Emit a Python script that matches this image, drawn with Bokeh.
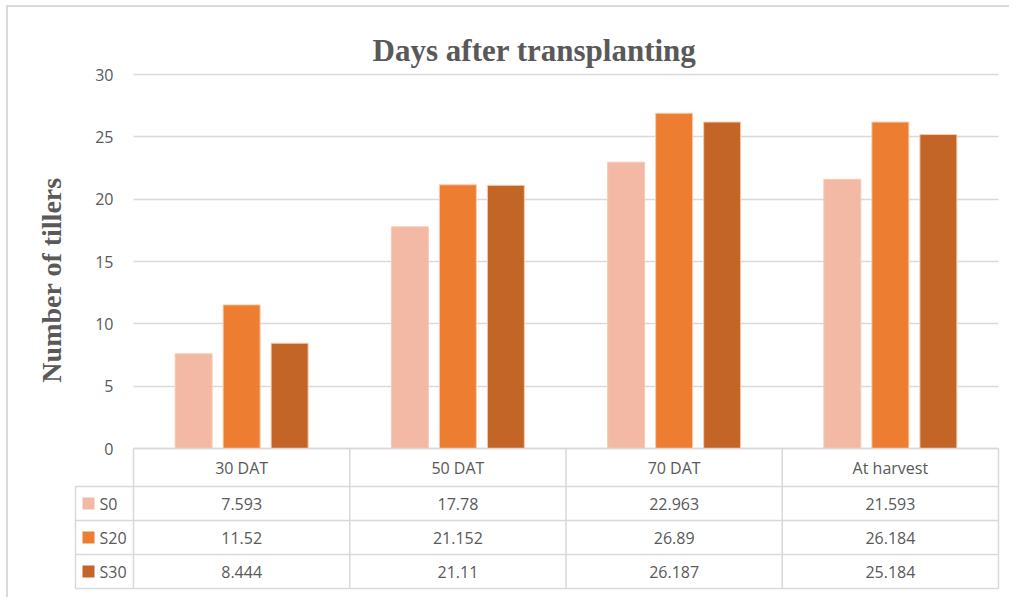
from bokeh.plotting import figure
from bokeh.models import Range1d, FixedTicker, Label
from bokeh.embed import file_html
from bokeh.resources import INLINE
from bokeh.core.properties import value

# ---------------- data ----------------
categories = ["30 DAT", "50 DAT", "70 DAT", "At harvest"]
series_names = ["S0", "S20", "S30"]
s0 = [7.593, 17.78, 22.963, 21.593]
s20 = [11.52, 21.152, 26.89, 26.184]
s30 = [8.444, 21.11, 26.187, 25.184]
y_ticks = [0, 5, 10, 15, 20, 25, 30]
title_text = "Days after transplanting"
y_label = "Number of tillers"

series = [s0, s20, s30]
colors = ["#F4B9A4", "#ED7D31", "#C46528"]
TEXT = "#595959"
GRID = "#D9D9D9"
SANS = "Open Sans"
SERIF = "Liberation Serif"

# ---------------- layout (pixels) ----------------
W, H = 1003, 592
ORIGIN_X = 125          # canvas px to start of first category
CAT_PX = 216.25         # px per category
ZERO_Y = 441            # canvas px (from top) to value 0
UNIT_PX = 374 / 30      # px per value unit
HEADER_H = 38 / UNIT_PX
ROW_H = 34 / UNIT_PX
LEG_W = 58 / CAT_PX
BAR_STEP = 0.222
BAR_W = 0.171

p = figure(width=W, height=H, output_backend="svg", toolbar_location=None,
           x_range=Range1d(-ORIGIN_X / CAT_PX, (W - ORIGIN_X) / CAT_PX),
           y_range=Range1d(-(H - ZERO_Y) / UNIT_PX, ZERO_Y / UNIT_PX),
           min_border=0, outline_line_color=None,
           background_fill_color="white", border_fill_color="white",
           styles={"margin-left": "6px", "margin-top": "5px",
                   "border-left": "2px solid #D9D9D9", "border-top": "2px solid #D9D9D9"})

p.xaxis.visible = False
p.xgrid.visible = False

# y axis at category origin
yax = p.yaxis[0]
yax.fixed_location = 0
yax.ticker = FixedTicker(ticks=y_ticks)
yax.bounds = (-3, 30)
yax.axis_line_color = None
yax.major_tick_line_color = None
yax.minor_tick_line_color = None
yax.major_tick_out = 0
yax.major_label_standoff = 20
yax.major_label_text_font = SANS
yax.major_label_text_font_size = "16px"
yax.major_label_text_color = TEXT
yax.axis_label = y_label
yax.axis_label_text_font = SERIF
yax.axis_label_text_font_style = "bold"
yax.axis_label_text_font_size = "28px"
yax.axis_label_text_color = TEXT
yax.axis_label_standoff = 25

p.ygrid.ticker = FixedTicker(ticks=y_ticks)
p.ygrid.grid_line_color = GRID
p.ygrid.grid_line_width = 1.5
p.ygrid.cross_bounds = (0, len(categories))

# bars
n = len(categories)
for j, vals in enumerate(series):
    xs = [i + 0.5 + (j - 1) * BAR_STEP for i in range(n)]
    p.vbar(x=xs, top=vals, bottom=0, width=BAR_W, fill_color=colors[j],
           line_color="#F8CBAD", line_width=1)

# data table
n_rows = len(series_names)
bottom = -(HEADER_H + n_rows * ROW_H)
vx = list(range(n + 1)) + [-LEG_W]
vy0 = [0] * (n + 1) + [-HEADER_H]
p.segment(x0=vx, x1=vx, y0=vy0, y1=[bottom] * len(vx), line_color=GRID, line_width=1.5)
hy = [0] + [-HEADER_H - r * ROW_H for r in range(n_rows + 1)]
hx0 = [0] + [-LEG_W] * (n_rows + 1)
p.segment(x0=hx0, x1=[n] * len(hy), y0=hy, y1=hy, line_color=GRID, line_width=1.5)

p.text(x=[i + 0.5 for i in range(n)], y=[-HEADER_H / 2] * n, text=categories,
       text_align="center", text_baseline="middle", text_font=value(SANS),
       text_font_size="16px", text_color=TEXT)

for j, vals in enumerate(series):
    yc = -HEADER_H - (j + 0.5) * ROW_H
    p.text(x=[i + 0.5 for i in range(n)], y=[yc] * n, text=[str(v) for v in vals],
           text_align="center", text_baseline="middle", text_font=value(SANS),
           text_font_size="16px", text_color=TEXT)
    p.scatter(x=[-LEG_W + 13 / CAT_PX], y=[yc], marker="square", size=12,
              fill_color=colors[j], line_color=None)
    p.text(x=[-LEG_W + 24 / CAT_PX], y=[yc], text=[series_names[j]],
           text_align="left", text_baseline="middle", text_font=value(SANS),
           text_font_size="16px", text_color=TEXT)

# title
p.add_layout(Label(x=(534 - 133) / CAT_PX, y=(448 - 50) / UNIT_PX, text=title_text,
                   text_align="center", text_baseline="alphabetic",
                   text_font=SERIF, text_font_style="bold",
                   text_font_size="31px", text_color=TEXT))

open("out.html", "w").write(file_html(p, INLINE))
